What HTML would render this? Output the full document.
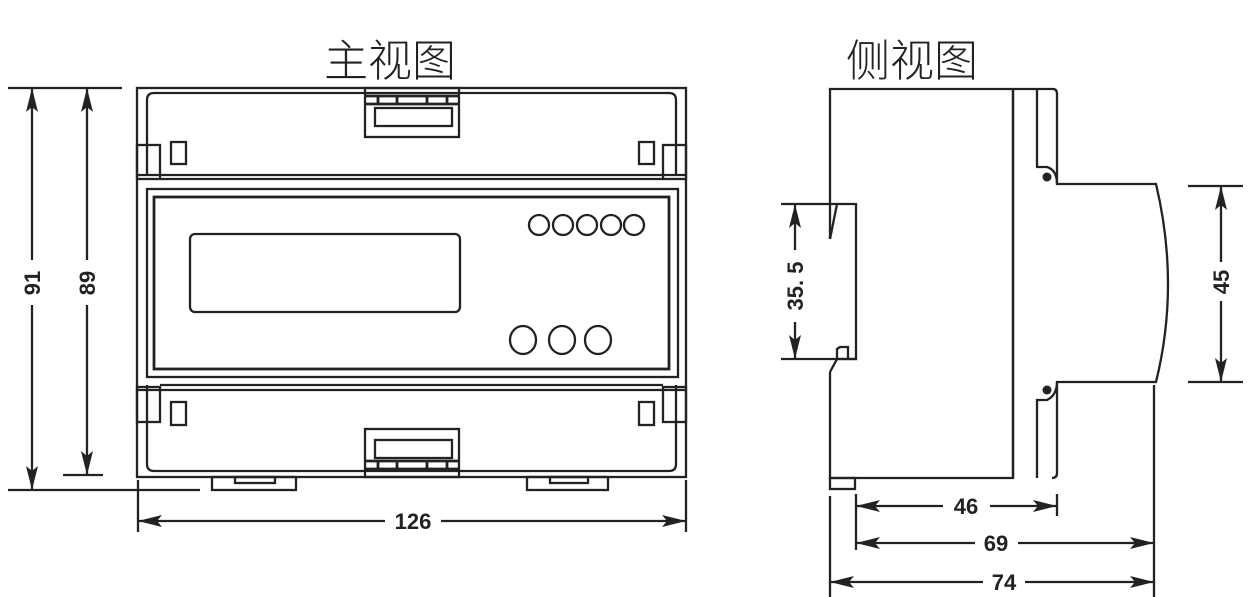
<!DOCTYPE html>
<html><head><meta charset="utf-8"><style>html,body{margin:0;padding:0;background:#fff}svg{display:block}</style></head>
<body>
<svg width="1253" height="597" viewBox="0 0 1253 597" xmlns="http://www.w3.org/2000/svg">
<defs>
<marker id="a" viewBox="0 0 24 12" refX="24" refY="6" markerWidth="24" markerHeight="12" markerUnits="userSpaceOnUse" orient="auto-start-reverse"><path d="M0,0 L24,6 L0,12 L5,6 Z" fill="#222"/></marker>
</defs>
<g font-family="'Liberation Sans','Noto Sans CJK SC',sans-serif" fill="#222">
<text x="390" y="76" font-size="44" text-anchor="middle" font-family="'Noto Sans CJK SC',sans-serif" font-weight="300">主视图</text>
<text x="912" y="76" font-size="44" text-anchor="middle" font-family="'Noto Sans CJK SC',sans-serif" font-weight="300">侧视图</text>
</g>
<g fill="none" stroke="#222" stroke-width="2.3">
<rect x="137" y="88" width="549" height="389"/>
<path d="M147,175 V100 Q147,93 154,93 H669 Q676,93 676,100 V175"/>
<path d="M147,385 V464 Q147,471 154,471 H669 Q676,471 676,464 V385"/>
<line x1="137" y1="175" x2="686" y2="175"/><line x1="160" y1="179" x2="663" y2="179"/>
<line x1="160" y1="385" x2="663" y2="385"/><line x1="137" y1="390" x2="686" y2="390"/>
<rect x="137" y="145" width="23" height="34"/><rect x="663" y="145" width="23" height="34"/>
<rect x="137" y="387" width="23" height="35"/><rect x="663" y="387" width="23" height="35"/>
<rect x="171" y="142" width="15" height="22"/><rect x="639" y="142" width="15" height="22"/>
<rect x="171" y="402" width="15" height="23"/><rect x="639" y="402" width="15" height="23"/>
<rect x="147" y="189" width="531" height="188"/>
<rect x="154" y="197" width="515" height="172" stroke-width="2.8"/>
<rect x="190" y="234" width="270" height="78" rx="5"/>
<ellipse cx="539" cy="225" rx="10" ry="10"/><ellipse cx="563" cy="225" rx="10" ry="10"/><ellipse cx="587" cy="225" rx="10" ry="10"/><ellipse cx="611" cy="225" rx="10" ry="10"/><ellipse cx="634" cy="225" rx="10" ry="10"/>
<ellipse cx="523" cy="340" rx="13" ry="14"/><ellipse cx="562" cy="340" rx="13" ry="14"/><ellipse cx="598" cy="340" rx="13" ry="14"/>
<rect x="365" y="88" width="94" height="49"/><rect x="375" y="108" width="77" height="18"/>
<path d="M365,96 H459 M365,104 H459 M378,96 V104 M397,96 V104 M427,96 V104 M447,96 V104" stroke-width="2.8"/>
<rect x="365" y="429" width="94" height="48"/><rect x="375" y="440" width="77" height="18"/>
<path d="M365,461 H459 M365,469 H459 M378,461 V469 M397,461 V469 M427,461 V469 M447,461 V469" stroke-width="2.8"/>
<rect x="212" y="477" width="84" height="13"/><rect x="235" y="477" width="40" height="6"/>
<rect x="527" y="477" width="81" height="13"/><rect x="550" y="477" width="38" height="6"/>
<line x1="8" y1="88" x2="122" y2="88"/><line x1="8" y1="490" x2="200" y2="490"/><line x1="63" y1="475" x2="103" y2="475"/>
<line x1="32" y1="88" x2="32" y2="260" marker-start="url(#a)"/><line x1="32" y1="305" x2="32" y2="490" marker-end="url(#a)"/>
<line x1="87" y1="88" x2="87" y2="260" marker-start="url(#a)"/><line x1="87" y1="305" x2="87" y2="475" marker-end="url(#a)"/>
<line x1="138" y1="480" x2="138" y2="532"/><line x1="686" y1="480" x2="686" y2="532"/>
<line x1="138" y1="521" x2="385" y2="521" marker-start="url(#a)"/><line x1="441" y1="521" x2="686" y2="521" marker-end="url(#a)"/>
<path d="M830,239 V89 H1013 V478 H830 V372"/>
<line x1="1013" y1="89" x2="1013" y2="478"/>
<path d="M1013,89 H1053 Q1057,89 1057,94 V184 H1156 Q1180,285 1156,382 H1057 V473 Q1057,478 1052,478"/>
<path d="M1037,89 V167 H1047 Q1057,170 1057,184"/>
<path d="M1037,478 V400 H1047 Q1057,395 1057,382"/>
<path d="M830,239 L837,204 H856 V359 H837 L830,372"/>
<path d="M837,359 V349 L840,347 H848 V359"/>
<rect x="830" y="478" width="25" height="11"/>
<line x1="781" y1="204" x2="837" y2="204"/><line x1="781" y1="359" x2="857" y2="359"/>
<line x1="795" y1="204" x2="795" y2="250" marker-start="url(#a)"/><line x1="795" y1="322" x2="795" y2="359" marker-end="url(#a)"/>
<line x1="1188" y1="186" x2="1243" y2="186"/><line x1="1188" y1="382" x2="1243" y2="382"/>
<line x1="1221" y1="186" x2="1221" y2="262" marker-start="url(#a)"/><line x1="1221" y1="301" x2="1221" y2="382" marker-end="url(#a)"/>
<line x1="856" y1="494" x2="856" y2="550"/><line x1="1057" y1="494" x2="1057" y2="516"/>
<line x1="1154" y1="385" x2="1154" y2="597"/><line x1="830" y1="496" x2="830" y2="597"/>
<line x1="856" y1="506" x2="943" y2="506" marker-start="url(#a)"/><line x1="990" y1="506" x2="1057" y2="506" marker-end="url(#a)"/>
<line x1="856" y1="543" x2="975" y2="543" marker-start="url(#a)"/><line x1="1018" y1="543" x2="1154" y2="543" marker-end="url(#a)"/>
<line x1="830" y1="582" x2="983" y2="582" marker-start="url(#a)"/><line x1="1025" y1="582" x2="1154" y2="582" marker-end="url(#a)"/>
</g>
<circle cx="1047" cy="177" r="4.5" fill="#222"/><circle cx="1047" cy="390" r="4.5" fill="#222"/>
<g font-family="'Liberation Sans',sans-serif" font-size="22" font-weight="bold" fill="#222" text-anchor="middle">
<text x="413" y="529">126</text>
<text x="966" y="514">46</text>
<text x="996" y="551">69</text>
<text x="1004" y="590">74</text>
<text transform="translate(40,283) rotate(-90)">91</text>
<text transform="translate(95,283) rotate(-90)">89</text>
<text transform="translate(803,286) rotate(-90)">35. 5</text>
<text transform="translate(1229,282) rotate(-90)">45</text>
</g>
</svg>
</body></html>
